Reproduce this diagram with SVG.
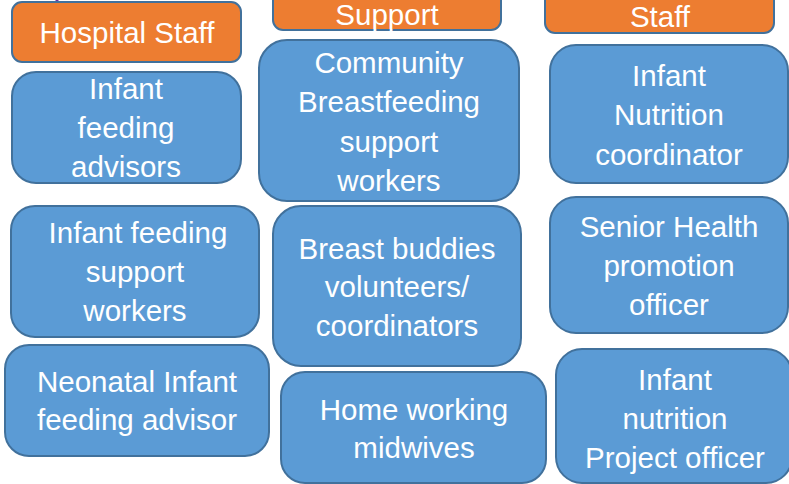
<svg xmlns="http://www.w3.org/2000/svg" width="789" height="484" viewBox="0 0 789 484">
<style>
.o{fill:#ED7D31;stroke:#41719C;stroke-width:2}
.b{fill:#5B9BD5;stroke:#41719C;stroke-width:2}
text{font-family:"Liberation Sans",Arial,sans-serif;font-size:29.5px;fill:#fff;text-anchor:middle}
</style>
<rect width="789" height="484" fill="#fff"/>
<g id="connectors">
<line x1="57" y1="0" x2="57" y2="2" stroke="#7030A0" stroke-width="3"/>
</g>
<g id="hospital-staff"><rect class="o" x="12" y="2" width="229" height="60" rx="10"/><text x="127" y="43">Hospital Staff</text></g>
<g id="support"><rect class="o" x="273" y="-12" width="228" height="42" rx="10"/><text x="387" y="25">Support</text></g>
<g id="staff"><rect class="o" x="545" y="-12" width="229" height="45" rx="10"/><text x="660" y="27">Staff</text></g>

<g id="infant-feeding-advisors"><rect class="b" x="12" y="72" width="229" height="111" rx="24"/><text x="126" y="99">Infant</text><text x="126" y="138">feeding</text><text x="126" y="177">advisors</text></g>
<g id="infant-feeding-support-workers"><rect class="b" x="11" y="206" width="248" height="131" rx="24"/><text x="138" y="243">Infant feeding</text><text x="135" y="282">support</text><text x="135" y="321">workers</text></g>
<g id="neonatal-infant-feeding-advisor"><rect class="b" x="5" y="345" width="264" height="111" rx="24"/><text x="137" y="392">Neonatal Infant</text><text x="137" y="430">feeding advisor</text></g>

<g id="community-breastfeeding"><rect class="b" x="259" y="40" width="260" height="161" rx="28"/><text x="389" y="73">Community</text><text x="389" y="112">Breastfeeding</text><text x="389" y="152">support</text><text x="389" y="191">workers</text></g>
<g id="breast-buddies"><rect class="b" x="273" y="206" width="248" height="160" rx="28"/><text x="397" y="259">Breast buddies</text><text x="397" y="297">volunteers/</text><text x="397" y="336">coordinators</text></g>
<g id="home-working-midwives"><rect class="b" x="281" y="372" width="265" height="111" rx="24"/><text x="414" y="420">Home working</text><text x="414" y="458">midwives</text></g>

<g id="infant-nutrition-coordinator"><rect class="b" x="550" y="45" width="238" height="138" rx="26"/><text x="669" y="86">Infant</text><text x="669" y="125">Nutrition</text><text x="669" y="165">coordinator</text></g>
<g id="senior-health-promotion-officer"><rect class="b" x="550" y="197" width="238" height="136" rx="26"/><text x="669" y="237">Senior Health</text><text x="669" y="276">promotion</text><text x="669" y="315">officer</text></g>
<g id="infant-nutrition-project-officer"><rect class="b" x="556" y="349" width="236" height="134" rx="26"/><text x="675" y="390">Infant</text><text x="675" y="429">nutrition</text><text x="675" y="468">Project officer</text></g>
</svg>
